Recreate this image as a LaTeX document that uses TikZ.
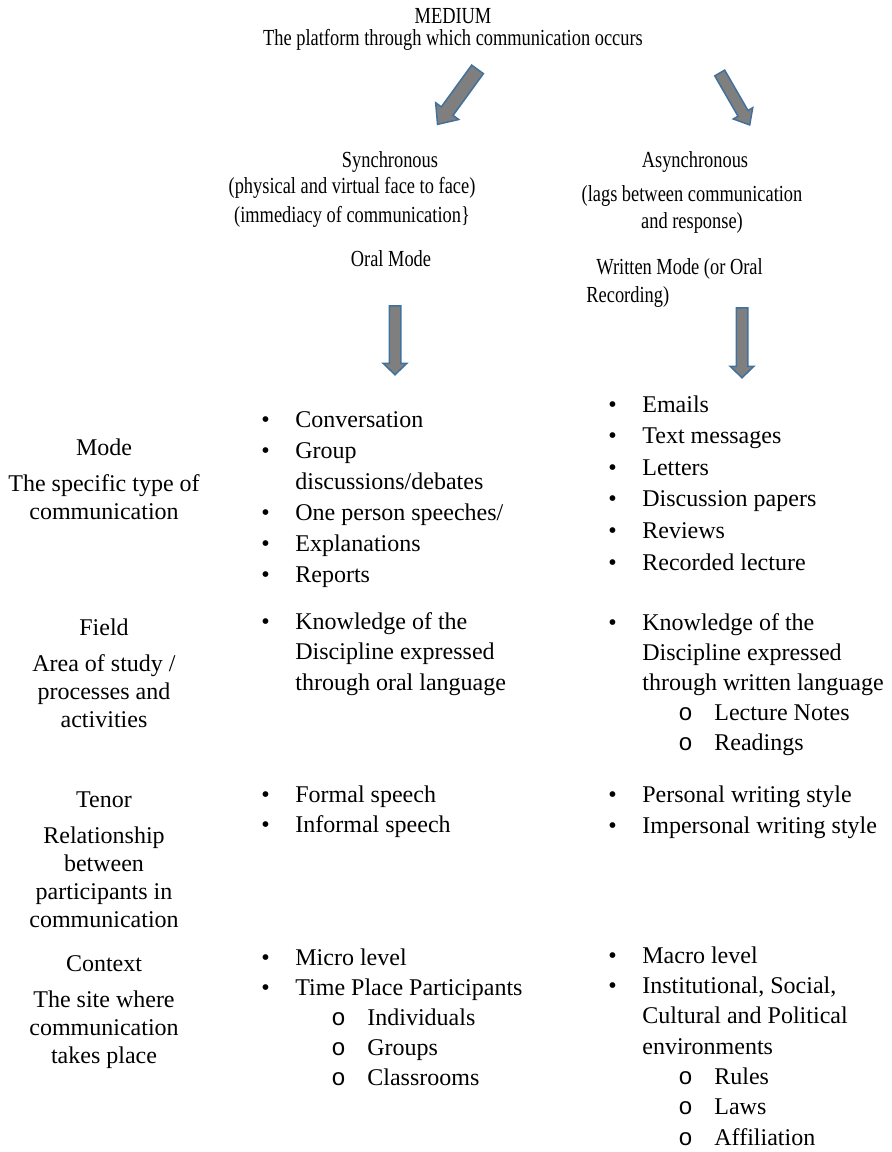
\documentclass[tikz,border=0pt]{standalone}
\usepackage{fontspec}
\setmainfont{Liberation Serif}
\newfontfamily\hdfont[FakeStretch=0.8]{Liberation Serif}
\newfontfamily\subfont{Liberation Mono}
\usepackage{xcolor}
\usepackage{tikz}
\usetikzlibrary{shapes.arrows}
\definecolor{arrblue}{RGB}{65,113,156}
\definecolor{arrgray}{RGB}{127,127,127}
\newcommand{\itb}{\makebox[17pt][l]{•}}% bullet item
\newcommand{\itc}{\hspace*{17pt}}% continued line
\newcommand{\its}{\hspace*{35pt}\makebox[18pt][l]{\subfont o}}% sub item
\tikzset{
  hdtext/.style = {inner sep=0pt, anchor=base,
    font=\hdfont\fontsize{11.5}{14}\selectfont},% top part, narrow
  sidetext/.style = {inner sep=0pt, anchor=base, align=center,
    font=\fontsize{12}{14}\selectfont},% left column, placed by last line
  listtext/.style = {inner sep=0pt, anchor=base west, align=left,
    font=\fontsize{12}{#1}\selectfont},% bullet lists, placed by last line
  listtext/.default = 15pt,
  blockarr/.style = {single arrow, draw=arrblue, fill=arrgray,
    line width=0.75pt, inner xsep=0pt, minimum width=0pt,
    single arrow head indent=0pt, midway, sloped, allow upside down}% block arrows
}

\begin{document}
\begin{tikzpicture}[x=0.5pt, y=-0.5pt]
\useasboundingbox (0,0) rectangle (891,1152);
\node [hdtext] (medium) at (453,23) {MEDIUM};
\node [hdtext] (platform) at (453,45) {The platform through which communication occurs};
\node [hdtext] (sync) at (390,167) {Synchronous};
\node [hdtext] (synca) at (352,193) {(physical and virtual face to face)};
\node [hdtext] (syncb) at (352,222) {(immediacy of communication\}};
\node [hdtext] (oral) at (391,266) {Oral Mode};
\node [hdtext] (async) at (695,167) {Asynchronous};
\node [hdtext] (asynca) at (692,201) {(lags between communication};
\node [hdtext] (asyncb) at (692,228) {and response)};
\node [hdtext, anchor=base west] (written) at (596,274) {Written Mode (or Oral};
\node [hdtext, anchor=base west] (recording) at (586,302) {Recording)};

\coordinate (syncs) at (480,66);
\coordinate (synce) at (440,121);
\coordinate (asyncs) at (718,70);
\coordinate (asynce) at (748,122);
\coordinate (orals) at (395,303);
\coordinate (orale) at (395,372);
\coordinate (writs) at (742,305);
\coordinate (write) at (742,375);
\path (syncs) -- (synce) node [blockarr, minimum height=34pt, inner ysep=3.25pt,
  single arrow head extend=3.5pt, single arrow tip angle=82] (arrsync) {};
\path (asyncs) -- (asynce) node [blockarr, minimum height=30pt, inner ysep=2.5pt,
  single arrow head extend=2.75pt, single arrow tip angle=80] (arrasync) {};
\path (orals) -- (orale) node [blockarr, minimum height=34.5pt, inner ysep=2.5pt,
  single arrow head extend=3pt, single arrow tip angle=92] (arroral) {};
\path (writs) -- (write) node [blockarr, minimum height=35pt, inner ysep=2.5pt,
  single arrow head extend=3pt, single arrow tip angle=92] (arrwrit) {};

\node [sidetext] (mode) at (104,519) {Mode\\[4pt]The specific type of\\communication};
\node [sidetext] (field) at (104,727) {Field\\[4pt]Area of study /\\processes and\\activities};
\node [sidetext] (tenor) at (104,927) {Tenor\\[4pt]Relationship\\between\\participants in\\communication};
\node [sidetext] (context) at (104,1063) {Context\\[4pt]The site where\\communication\\takes place};

\node [listtext=15.5pt] (oralmode) at (261,582) {\itb Conversation\\ \itb Group\\
  \itc discussions/debates\\ \itb One person speeches/\\ \itb Explanations\\ \itb Reports};
\node [listtext=15.25pt] (oralfield) at (261,690) {\itb Knowledge of the\\
  \itc Discipline expressed\\ \itc through oral language};
\node [listtext] (oraltenor) at (261,832) {\itb Formal speech\\ \itb Informal speech};
\node [listtext] (oralcontext) at (261,1085) {\itb Micro level\\ \itb Time Place Participants\\
  \its Individuals\\ \its Groups\\ \its Classrooms};

\node [listtext=15.8pt] (writmode) at (608,570) {\itb Emails\\ \itb Text messages\\ \itb Letters\\
  \itb Discussion papers\\ \itb Reviews\\ \itb Recorded lecture};
\node [listtext] (writfield) at (608,750) {\itb Knowledge of the\\ \itc Discipline expressed\\
  \itc through written language\\ \its Lecture Notes\\ \its Readings};
\node [listtext=15.5pt] (writtenor) at (608,833) {\itb Personal writing style\\
  \itb Impersonal writing style};
\node [listtext=15.15pt] (writcontext) at (608,1145) {\itb Macro level\\ \itb Institutional, Social,\\
  \itc Cultural and Political\\ \itc environments\\ \its Rules\\ \its Laws\\ \its Affiliation};
\end{tikzpicture}
\end{document}
